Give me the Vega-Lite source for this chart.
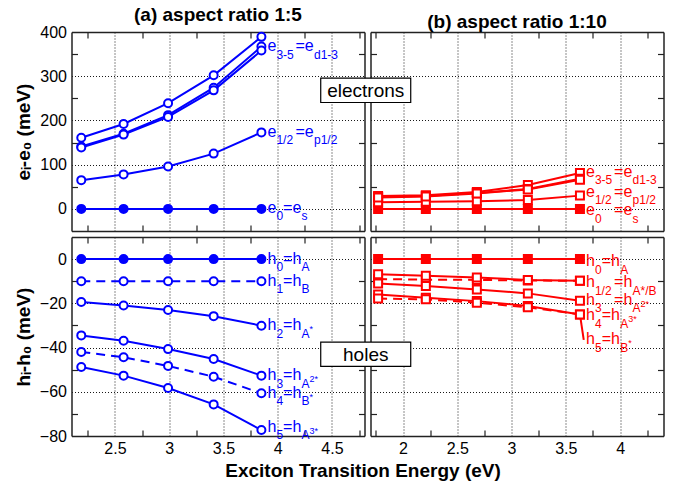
{
  "$schema": "https://vega.github.io/schema/vega-lite/v6.json",
  "padding": {"left": 13.5, "top": 6, "right": 5, "bottom": 5},
  "background": "white",
  "config": {
    "view": {"stroke": null},
    "font": "Liberation Sans",
    "axis": {"labelFont": "Liberation Sans", "labelFontSize": 16, "labelColor": "black", "titleFont": "Liberation Sans", "titleFontSize": 19, "titleFontWeight": "bold", "titleColor": "black", "gridColor": "black", "gridDash": [1, 2], "gridOpacity": 0.9, "gridWidth": 1, "domainColor": "#222", "domainWidth": 1.5, "tickColor": "#222", "tickWidth": 1.2, "labelFlush": false, "labelOverlap": false},
    "title": {"font": "Liberation Sans", "fontSize": 19, "fontWeight": "bold", "color": "black", "offset": -1, "anchor": "middle"}
  },
  "datasets": {
    "ae": [
      {"s": "e0", "x": 2.19, "y": 0}, {"s": "e0", "x": 2.58, "y": 0}, {"s": "e0", "x": 2.99, "y": 0}, {"s": "e0", "x": 3.41, "y": 0}, {"s": "e0", "x": 3.85, "y": 0},
      {"s": "e12", "x": 2.19, "y": 65}, {"s": "e12", "x": 2.58, "y": 78}, {"s": "e12", "x": 2.99, "y": 96}, {"s": "e12", "x": 3.41, "y": 125}, {"s": "e12", "x": 3.85, "y": 173},
      {"s": "e3", "x": 2.19, "y": 161}, {"s": "e3", "x": 2.58, "y": 192}, {"s": "e3", "x": 2.99, "y": 239}, {"s": "e3", "x": 3.41, "y": 302}, {"s": "e3", "x": 3.85, "y": 389},
      {"s": "e4", "x": 2.19, "y": 141}, {"s": "e4", "x": 2.58, "y": 170}, {"s": "e4", "x": 2.99, "y": 212}, {"s": "e4", "x": 3.41, "y": 274}, {"s": "e4", "x": 3.85, "y": 367},
      {"s": "e5", "x": 2.19, "y": 139}, {"s": "e5", "x": 2.58, "y": 168}, {"s": "e5", "x": 2.99, "y": 208}, {"s": "e5", "x": 3.41, "y": 268}, {"s": "e5", "x": 3.85, "y": 358}
    ],
    "be": [
      {"s": "e0", "x": 1.77, "y": 0}, {"s": "e0", "x": 2.21, "y": 0}, {"s": "e0", "x": 2.68, "y": 0}, {"s": "e0", "x": 3.15, "y": 0}, {"s": "e0", "x": 3.63, "y": 0},
      {"s": "e12", "x": 1.77, "y": 15}, {"s": "e12", "x": 2.21, "y": 16}, {"s": "e12", "x": 2.68, "y": 17}, {"s": "e12", "x": 3.15, "y": 20}, {"s": "e12", "x": 3.63, "y": 30},
      {"s": "e3", "x": 1.77, "y": 29}, {"s": "e3", "x": 2.21, "y": 31}, {"s": "e3", "x": 2.68, "y": 38}, {"s": "e3", "x": 3.15, "y": 54}, {"s": "e3", "x": 3.63, "y": 81},
      {"s": "e4", "x": 1.77, "y": 27}, {"s": "e4", "x": 2.21, "y": 29}, {"s": "e4", "x": 2.68, "y": 36}, {"s": "e4", "x": 3.15, "y": 45}, {"s": "e4", "x": 3.63, "y": 68},
      {"s": "e5", "x": 1.77, "y": 26}, {"s": "e5", "x": 2.21, "y": 28}, {"s": "e5", "x": 2.68, "y": 35}, {"s": "e5", "x": 3.15, "y": 44}, {"s": "e5", "x": 3.63, "y": 66}
    ],
    "ah": [
      {"s": "h0", "x": 2.19, "y": 0}, {"s": "h0", "x": 2.58, "y": 0}, {"s": "h0", "x": 2.99, "y": 0}, {"s": "h0", "x": 3.41, "y": 0}, {"s": "h0", "x": 3.85, "y": 0},
      {"s": "h1", "x": 2.19, "y": -10}, {"s": "h1", "x": 2.58, "y": -10}, {"s": "h1", "x": 2.99, "y": -10}, {"s": "h1", "x": 3.41, "y": -10}, {"s": "h1", "x": 3.85, "y": -10},
      {"s": "h2", "x": 2.19, "y": -19.4}, {"s": "h2", "x": 2.58, "y": -21}, {"s": "h2", "x": 2.99, "y": -23}, {"s": "h2", "x": 3.41, "y": -25.8}, {"s": "h2", "x": 3.85, "y": -30.1},
      {"s": "h3", "x": 2.19, "y": -34.5}, {"s": "h3", "x": 2.58, "y": -36.9}, {"s": "h3", "x": 2.99, "y": -40.7}, {"s": "h3", "x": 3.41, "y": -45.2}, {"s": "h3", "x": 3.85, "y": -52.7},
      {"s": "h4", "x": 2.19, "y": -42}, {"s": "h4", "x": 2.58, "y": -44.4}, {"s": "h4", "x": 2.99, "y": -48.3}, {"s": "h4", "x": 3.41, "y": -53.2}, {"s": "h4", "x": 3.85, "y": -60.7},
      {"s": "h5", "x": 2.19, "y": -48.8}, {"s": "h5", "x": 2.58, "y": -52.7}, {"s": "h5", "x": 2.99, "y": -58.3}, {"s": "h5", "x": 3.41, "y": -65.7}, {"s": "h5", "x": 3.85, "y": -77.3}
    ],
    "bh": [
      {"s": "h0", "x": 1.77, "y": 0}, {"s": "h0", "x": 2.21, "y": 0}, {"s": "h0", "x": 2.68, "y": 0}, {"s": "h0", "x": 3.15, "y": 0}, {"s": "h0", "x": 3.63, "y": 0},
      {"s": "h1", "x": 1.77, "y": -9.0}, {"s": "h1", "x": 2.21, "y": -9.3}, {"s": "h1", "x": 2.68, "y": -9.4}, {"s": "h1", "x": 3.15, "y": -9.7}, {"s": "h1", "x": 3.63, "y": -9.8},
      {"s": "h2", "x": 1.77, "y": -6.9}, {"s": "h2", "x": 2.21, "y": -7.5}, {"s": "h2", "x": 2.68, "y": -8.3}, {"s": "h2", "x": 3.15, "y": -9.4}, {"s": "h2", "x": 3.63, "y": -9.8},
      {"s": "h3", "x": 1.77, "y": -11}, {"s": "h3", "x": 2.21, "y": -12.2}, {"s": "h3", "x": 2.68, "y": -13.7}, {"s": "h3", "x": 3.15, "y": -15.5}, {"s": "h3", "x": 3.63, "y": -18.8},
      {"s": "h4", "x": 1.77, "y": -16}, {"s": "h4", "x": 2.21, "y": -17.5}, {"s": "h4", "x": 2.68, "y": -19}, {"s": "h4", "x": 3.15, "y": -21.2}, {"s": "h4", "x": 3.63, "y": -25},
      {"s": "h5", "x": 1.77, "y": -17.8}, {"s": "h5", "x": 2.21, "y": -18.2}, {"s": "h5", "x": 2.68, "y": -19.7}, {"s": "h5", "x": 3.15, "y": -21.8}, {"s": "h5", "x": 3.63, "y": -25}
    ],
    "ael": [
      {"x": 3.85, "y": 367, "b1": "e", "s1": "3-5", "b2": "=e", "s2": "d1-3", "sp": ""},
      {"x": 3.85, "y": 173, "b1": "e", "s1": "1/2", "b2": "=e", "s2": "p1/2", "sp": ""},
      {"x": 3.85, "y": 2, "b1": "e", "s1": "0", "b2": "=e", "s2": "s", "sp": ""}
    ],
    "bel": [
      {"x": 3.63, "y": 83, "b1": "e", "s1": "3-5", "b2": "=e", "s2": "d1-3", "sp": ""},
      {"x": 3.63, "y": 38, "b1": "e", "s1": "1/2", "b2": "=e", "s2": "p1/2", "sp": ""},
      {"x": 3.63, "y": -4, "b1": "e", "s1": "0  ", "b2": "=e", "s2": "s", "sp": ""}
    ],
    "ahl": [
      {"x": 3.85, "y": 0, "b1": "h", "s1": "0", "b2": "=h", "s2": "A", "sp": ""},
      {"x": 3.85, "y": -10, "b1": "h", "s1": "1", "b2": "=h", "s2": "B", "sp": ""},
      {"x": 3.85, "y": -30.2, "b1": "h", "s1": "2", "b2": "=h", "s2": "A", "sp": "*"},
      {"x": 3.85, "y": -52.8, "b1": "h", "s1": "3", "b2": "=h", "s2": "A", "sp": "2*"},
      {"x": 3.85, "y": -60.6, "b1": "h", "s1": "4", "b2": "=h", "s2": "B", "sp": "*"},
      {"x": 3.85, "y": -76, "b1": "h", "s1": "5", "b2": "=h", "s2": "A", "sp": "3*"}
    ],
    "bhl": [
      {"x": 3.63, "y": -1.2, "b1": "h", "s1": "0", "b2": "=h", "s2": "A", "sp": ""},
      {"x": 3.63, "y": -10.6, "b1": "h", "s1": "1/2", "b2": "=h", "s2": "A*/B", "sp": ""},
      {"x": 3.63, "y": -18.5, "b1": "h", "s1": "3  ", "b2": "=h", "s2": "A", "sp": "2*"},
      {"x": 3.63, "y": -25.6, "b1": "h", "s1": "4", "b2": "=h", "s2": "A", "sp": "3*"},
      {"x": 3.63, "y": -36.5, "b1": "h", "s1": "5", "b2": "=h", "s2": "B", "sp": "*"}
    ]
  },
  "columns": 2,
  "spacing": {"row": 6, "column": 6},
  "bounds": "flush",
  "concat": [
        {
          "width": 293, "height": 199,
          "title": {"text": "(a) aspect ratio 1:5"},
          "resolve": {"axis": {"x": "independent", "y": "independent"}},
          "layer": [
            {"data": {"name": "ae"}, "mark": {"type": "line", "color": "#0000ff", "strokeWidth": 2},
             "encoding": {
               "x": {"field": "x", "type": "quantitative", "scale": {"domain": [2.1, 4.8], "nice": false, "zero": false}, "axis": {"orient": "bottom", "values": [2.5, 3, 3.5, 4, 4.5], "grid": true, "ticks": false, "labels": false, "domain": true, "title": null}},
               "y": {"field": "y", "type": "quantitative", "scale": {"domain": [-50, 400], "nice": false, "zero": false}, "axis": {"orient": "left", "values": [0, 100, 200, 300, 400], "grid": true, "ticks": false, "labels": true, "format": ".1~f", "labelPadding": 5, "domain": true, "title": "eᵢ-e₀ (meV)", "titlePadding": 6}},
               "detail": {"field": "s"}}},
            {"data": {"name": "ae"}, "mark": {"type": "point", "shape": "circle", "size": 64, "strokeWidth": 2, "filled": true, "opacity": 1, "stroke": "#0000ff"},
             "encoding": {
               "x": {"field": "x", "type": "quantitative", "scale": {"domain": [2.1, 4.8], "nice": false, "zero": false}, "axis": {"orient": "bottom", "values": [2.25, 2.75, 3.25, 3.75, 4.25, 4.75], "grid": false, "ticks": true, "tickSize": -6, "labels": false, "domain": false, "title": null}},
               "y": {"field": "y", "type": "quantitative", "scale": {"domain": [-50, 400], "nice": false, "zero": false}, "axis": {"orient": "left", "values": [50, 150, 250, 350], "grid": false, "ticks": true, "tickSize": -6, "labels": false, "domain": false, "title": null}},
               "fill": {"condition": {"test": "datum.s==='e0'", "value": "#0000ff"}, "value": "white"}}},
            {"data": {"name": "ael"}, "mark": {"type": "text", "align": "left", "baseline": "alphabetic", "dx": 6, "dy": 4.5, "fontSize": 16, "color": "#0000ff"},
             "encoding": {
               "x": {"field": "x", "type": "quantitative", "scale": {"domain": [2.1, 4.8], "nice": false, "zero": false}, "axis": {"orient": "top", "values": [2.25, 2.75, 3.25, 3.75, 4.25, 4.75], "grid": false, "ticks": true, "tickSize": -6, "labels": false, "domain": true, "title": null}},
               "y": {"field": "y", "type": "quantitative", "scale": {"domain": [-50, 400], "nice": false, "zero": false}, "axis": {"orient": "right", "values": [50, 150, 250, 350], "grid": false, "ticks": true, "tickSize": -6, "labels": false, "domain": true, "title": null}},
               "text": {"field": "b1"}}},
            {"data": {"name": "ael"}, "mark": {"type": "text", "align": "left", "baseline": "alphabetic", "dx": 15, "dy": 12, "fontSize": 12, "color": "#0000ff"},
             "encoding": {"x": {"field": "x", "type": "quantitative", "axis": null}, "y": {"field": "y", "type": "quantitative", "axis": null}, "text": {"field": "s1"}}},
            {"data": {"name": "ael"}, "mark": {"type": "text", "align": "left", "baseline": "alphabetic", "dx": {"expr": "15.5 + 6.2*length(datum.s1)"}, "dy": 4.5, "fontSize": 16, "color": "#0000ff"},
             "encoding": {"x": {"field": "x", "type": "quantitative", "axis": null}, "y": {"field": "y", "type": "quantitative", "axis": null}, "text": {"field": "b2"}}},
            {"data": {"name": "ael"}, "mark": {"type": "text", "align": "left", "baseline": "alphabetic", "dx": {"expr": "34 + 6.2*length(datum.s1)"}, "dy": 12, "fontSize": 12, "color": "#0000ff"},
             "encoding": {"x": {"field": "x", "type": "quantitative", "axis": null}, "y": {"field": "y", "type": "quantitative", "axis": null}, "text": {"field": "s2"}}}
          ]
        },
        {
          "width": 293, "height": 199,
          "title": {"text": "(b) aspect ratio 1:10"},
          "resolve": {"axis": {"x": "independent", "y": "independent"}},
          "layer": [
            {"data": {"name": "be"}, "mark": {"type": "line", "color": "#ff0000", "strokeWidth": 2},
             "encoding": {
               "x": {"field": "x", "type": "quantitative", "scale": {"domain": [1.7, 4.4], "nice": false, "zero": false}, "axis": {"orient": "bottom", "values": [2, 2.5, 3, 3.5, 4], "grid": true, "ticks": false, "labels": false, "domain": true, "title": null}},
               "y": {"field": "y", "type": "quantitative", "scale": {"domain": [-50, 400], "nice": false, "zero": false}, "axis": {"orient": "left", "values": [0, 100, 200, 300, 400], "grid": true, "ticks": false, "labels": false, "domain": true, "title": null}},
               "detail": {"field": "s"}}},
            {"data": {"name": "be"}, "mark": {"type": "point", "shape": "square", "size": 64, "strokeWidth": 2, "filled": true, "opacity": 1, "stroke": "#ff0000"},
             "encoding": {
               "x": {"field": "x", "type": "quantitative", "scale": {"domain": [1.7, 4.4], "nice": false, "zero": false}, "axis": {"orient": "bottom", "values": [1.75, 2.25, 2.75, 3.25, 3.75, 4.25], "grid": false, "ticks": true, "tickSize": -6, "labels": false, "domain": false, "title": null}},
               "y": {"field": "y", "type": "quantitative", "scale": {"domain": [-50, 400], "nice": false, "zero": false}, "axis": {"orient": "left", "values": [50, 150, 250, 350], "grid": false, "ticks": true, "tickSize": -6, "labels": false, "domain": false, "title": null}},
               "fill": {"condition": {"test": "datum.s==='e0'", "value": "#ff0000"}, "value": "white"}}},
            {"data": {"name": "bel"}, "mark": {"type": "text", "align": "left", "baseline": "alphabetic", "dx": 6, "dy": 4.5, "fontSize": 16, "color": "#ff0000"},
             "encoding": {
               "x": {"field": "x", "type": "quantitative", "scale": {"domain": [1.7, 4.4], "nice": false, "zero": false}, "axis": {"orient": "top", "values": [1.75, 2.25, 2.75, 3.25, 3.75, 4.25], "grid": false, "ticks": true, "tickSize": -6, "labels": false, "domain": true, "title": null}},
               "y": {"field": "y", "type": "quantitative", "scale": {"domain": [-50, 400], "nice": false, "zero": false}, "axis": {"orient": "right", "values": [50, 150, 250, 350], "grid": false, "ticks": true, "tickSize": -6, "labels": false, "domain": true, "title": null}},
               "text": {"field": "b1"}}},
            {"data": {"name": "bel"}, "mark": {"type": "text", "align": "left", "baseline": "alphabetic", "dx": 15, "dy": 12, "fontSize": 12, "color": "#ff0000"},
             "encoding": {"x": {"field": "x", "type": "quantitative", "axis": null}, "y": {"field": "y", "type": "quantitative", "axis": null}, "text": {"field": "s1"}}},
            {"data": {"name": "bel"}, "mark": {"type": "text", "align": "left", "baseline": "alphabetic", "dx": {"expr": "15.5 + 6.2*length(datum.s1)"}, "dy": 4.5, "fontSize": 16, "color": "#ff0000"},
             "encoding": {"x": {"field": "x", "type": "quantitative", "axis": null}, "y": {"field": "y", "type": "quantitative", "axis": null}, "text": {"field": "b2"}}},
            {"data": {"name": "bel"}, "mark": {"type": "text", "align": "left", "baseline": "alphabetic", "dx": {"expr": "34 + 6.2*length(datum.s1)"}, "dy": 12, "fontSize": 12, "color": "#ff0000"},
             "encoding": {"x": {"field": "x", "type": "quantitative", "axis": null}, "y": {"field": "y", "type": "quantitative", "axis": null}, "text": {"field": "s2"}}},
            {"data": {"values": [{"x": 1.656, "y": 268, "t": "electrons"}]}, "mark": {"type": "point", "shape": "M-1,-0.27H1V0.27H-1Z", "size": 8100, "filled": true, "fill": "white", "stroke": "black", "strokeWidth": 1.2, "opacity": 1},
             "encoding": {"x": {"field": "x", "type": "quantitative", "scale": {"domain": [1.7, 4.4], "nice": false, "zero": false}, "axis": null}, "y": {"field": "y", "type": "quantitative", "scale": {"domain": [-50, 400], "nice": false, "zero": false}, "axis": null}}},
            {"data": {"values": [{"x": 1.656, "y": 268, "t": "electrons"}]}, "mark": {"type": "text", "align": "center", "baseline": "middle", "fontSize": 19, "color": "black", "dy": 1},
             "encoding": {"x": {"field": "x", "type": "quantitative", "axis": null}, "y": {"field": "y", "type": "quantitative", "axis": null}, "text": {"field": "t"}}}
          ]
        },
        {
          "width": 293, "height": 199,
          "resolve": {"axis": {"x": "independent", "y": "independent"}},
          "layer": [
            {"data": {"name": "ah"}, "transform": [{"filter": "datum.s !== 'h1' && datum.s !== 'h4'"}], "mark": {"type": "line", "color": "#0000ff", "strokeWidth": 2},
             "encoding": {
               "x": {"field": "x", "type": "quantitative", "scale": {"domain": [2.1, 4.8], "nice": false, "zero": false}, "axis": {"orient": "bottom", "values": [2.5, 3, 3.5, 4, 4.5], "grid": true, "ticks": false, "labels": true, "format": ".1~f", "labelPadding": 4.5, "domain": true, "title": "Exciton Transition Energy (eV)", "titleX": 291, "titlePadding": 5}},
               "y": {"field": "y", "type": "quantitative", "scale": {"domain": [-80, 10], "nice": false, "zero": false}, "axis": {"orient": "left", "values": [-80, -60, -40, -20, 0], "grid": true, "ticks": false, "labels": true, "format": ".1~f", "labelPadding": 5, "domain": true, "title": "hᵢ-h₀ (meV)", "titlePadding": 6}},
               "detail": {"field": "s"}}},
            {"data": {"name": "ah"}, "transform": [{"filter": "datum.s === 'h1' || datum.s === 'h4'"}], "mark": {"type": "line", "color": "#0000ff", "strokeWidth": 2, "strokeDash": [9, 6]},
             "encoding": {
               "x": {"field": "x", "type": "quantitative", "scale": {"domain": [2.1, 4.8], "nice": false, "zero": false}, "axis": null},
               "y": {"field": "y", "type": "quantitative", "scale": {"domain": [-80, 10], "nice": false, "zero": false}, "axis": null},
               "detail": {"field": "s"}}},
            {"data": {"name": "ah"}, "mark": {"type": "point", "shape": "circle", "size": 64, "strokeWidth": 2, "filled": true, "opacity": 1, "stroke": "#0000ff"},
             "encoding": {
               "x": {"field": "x", "type": "quantitative", "scale": {"domain": [2.1, 4.8], "nice": false, "zero": false}, "axis": {"orient": "bottom", "values": [2.25, 2.75, 3.25, 3.75, 4.25, 4.75], "grid": false, "ticks": true, "tickSize": -6, "labels": false, "domain": false, "title": null}},
               "y": {"field": "y", "type": "quantitative", "scale": {"domain": [-80, 10], "nice": false, "zero": false}, "axis": {"orient": "left", "values": [-70, -50, -30, -10], "grid": false, "ticks": true, "tickSize": -6, "labels": false, "domain": false, "title": null}},
               "fill": {"condition": {"test": "datum.s==='h0'", "value": "#0000ff"}, "value": "white"}}},
            {"data": {"name": "ahl"}, "mark": {"type": "text", "align": "left", "baseline": "alphabetic", "dx": 6, "dy": 4.5, "fontSize": 16, "color": "#0000ff"},
             "encoding": {
               "x": {"field": "x", "type": "quantitative", "scale": {"domain": [2.1, 4.8], "nice": false, "zero": false}, "axis": {"orient": "top", "values": [2.25, 2.75, 3.25, 3.75, 4.25, 4.75], "grid": false, "ticks": true, "tickSize": -6, "labels": false, "domain": true, "title": null}},
               "y": {"field": "y", "type": "quantitative", "scale": {"domain": [-80, 10], "nice": false, "zero": false}, "axis": {"orient": "right", "values": [-70, -50, -30, -10], "grid": false, "ticks": true, "tickSize": -6, "labels": false, "domain": true, "title": null}},
               "text": {"field": "b1"}}},
            {"data": {"name": "ahl"}, "mark": {"type": "text", "align": "left", "baseline": "alphabetic", "dx": 15, "dy": 12, "fontSize": 12, "color": "#0000ff"},
             "encoding": {"x": {"field": "x", "type": "quantitative", "axis": null}, "y": {"field": "y", "type": "quantitative", "axis": null}, "text": {"field": "s1"}}},
            {"data": {"name": "ahl"}, "mark": {"type": "text", "align": "left", "baseline": "alphabetic", "dx": {"expr": "15.5 + 6.2*length(datum.s1)"}, "dy": 4.5, "fontSize": 16, "color": "#0000ff"},
             "encoding": {"x": {"field": "x", "type": "quantitative", "axis": null}, "y": {"field": "y", "type": "quantitative", "axis": null}, "text": {"field": "b2"}}},
            {"data": {"name": "ahl"}, "mark": {"type": "text", "align": "left", "baseline": "alphabetic", "dx": {"expr": "34 + 6.2*length(datum.s1)"}, "dy": 12, "fontSize": 12, "color": "#0000ff"},
             "encoding": {"x": {"field": "x", "type": "quantitative", "axis": null}, "y": {"field": "y", "type": "quantitative", "axis": null}, "text": {"field": "s2"}}},
            {"data": {"name": "ahl"}, "mark": {"type": "text", "align": "left", "baseline": "alphabetic", "dx": {"expr": "34 + 6.2*length(datum.s1) + 8*length(datum.s2)"}, "dy": 6.5, "fontSize": 9, "color": "#0000ff"},
             "encoding": {"x": {"field": "x", "type": "quantitative", "axis": null}, "y": {"field": "y", "type": "quantitative", "axis": null}, "text": {"field": "sp"}}}
          ]
        },
        {
          "width": 293, "height": 199,
          "resolve": {"axis": {"x": "independent", "y": "independent"}},
          "layer": [
            {"data": {"name": "bh"}, "transform": [{"filter": "datum.s !== 'h1' && datum.s !== 'h5'"}], "mark": {"type": "line", "color": "#ff0000", "strokeWidth": 2},
             "encoding": {
               "x": {"field": "x", "type": "quantitative", "scale": {"domain": [1.7, 4.4], "nice": false, "zero": false}, "axis": {"orient": "bottom", "values": [2, 2.5, 3, 3.5, 4], "grid": true, "ticks": false, "labels": true, "format": ".1~f", "labelPadding": 4.5, "domain": true, "title": null}},
               "y": {"field": "y", "type": "quantitative", "scale": {"domain": [-80, 10], "nice": false, "zero": false}, "axis": {"orient": "left", "values": [-80, -60, -40, -20, 0], "grid": true, "ticks": false, "labels": false, "domain": true, "title": null}},
               "detail": {"field": "s"}}},
            {"data": {"name": "bh"}, "transform": [{"filter": "datum.s === 'h1' || datum.s === 'h5'"}], "mark": {"type": "line", "color": "#ff0000", "strokeWidth": 2, "strokeDash": [9, 6]},
             "encoding": {
               "x": {"field": "x", "type": "quantitative", "scale": {"domain": [1.7, 4.4], "nice": false, "zero": false}, "axis": null},
               "y": {"field": "y", "type": "quantitative", "scale": {"domain": [-80, 10], "nice": false, "zero": false}, "axis": null},
               "detail": {"field": "s"}}},
            {"data": {"values": [{"x": 3.63, "y": -25, "x2": 3.665, "y2": -36.5}]}, "mark": {"type": "rule", "color": "#ff0000", "strokeWidth": 2},
             "encoding": {
               "x": {"field": "x", "type": "quantitative", "scale": {"domain": [1.7, 4.4], "nice": false, "zero": false}, "axis": null},
               "x2": {"field": "x2"},
               "y": {"field": "y", "type": "quantitative", "scale": {"domain": [-80, 10], "nice": false, "zero": false}, "axis": null},
               "y2": {"field": "y2"}}},
            {"data": {"name": "bh"}, "mark": {"type": "point", "shape": "square", "size": 64, "strokeWidth": 2, "filled": true, "opacity": 1, "stroke": "#ff0000"},
             "encoding": {
               "x": {"field": "x", "type": "quantitative", "scale": {"domain": [1.7, 4.4], "nice": false, "zero": false}, "axis": {"orient": "bottom", "values": [1.75, 2.25, 2.75, 3.25, 3.75, 4.25], "grid": false, "ticks": true, "tickSize": -6, "labels": false, "domain": false, "title": null}},
               "y": {"field": "y", "type": "quantitative", "scale": {"domain": [-80, 10], "nice": false, "zero": false}, "axis": {"orient": "left", "values": [-70, -50, -30, -10], "grid": false, "ticks": true, "tickSize": -6, "labels": false, "domain": false, "title": null}},
               "fill": {"condition": {"test": "datum.s==='h0'", "value": "#ff0000"}, "value": "white"}}},
            {"data": {"name": "bhl"}, "mark": {"type": "text", "align": "left", "baseline": "alphabetic", "dx": 6, "dy": 4.5, "fontSize": 16, "color": "#ff0000"},
             "encoding": {
               "x": {"field": "x", "type": "quantitative", "scale": {"domain": [1.7, 4.4], "nice": false, "zero": false}, "axis": {"orient": "top", "values": [1.75, 2.25, 2.75, 3.25, 3.75, 4.25], "grid": false, "ticks": true, "tickSize": -6, "labels": false, "domain": true, "title": null}},
               "y": {"field": "y", "type": "quantitative", "scale": {"domain": [-80, 10], "nice": false, "zero": false}, "axis": {"orient": "right", "values": [-70, -50, -30, -10], "grid": false, "ticks": true, "tickSize": -6, "labels": false, "domain": true, "title": null}},
               "text": {"field": "b1"}}},
            {"data": {"name": "bhl"}, "mark": {"type": "text", "align": "left", "baseline": "alphabetic", "dx": 15, "dy": 12, "fontSize": 12, "color": "#ff0000"},
             "encoding": {"x": {"field": "x", "type": "quantitative", "axis": null}, "y": {"field": "y", "type": "quantitative", "axis": null}, "text": {"field": "s1"}}},
            {"data": {"name": "bhl"}, "mark": {"type": "text", "align": "left", "baseline": "alphabetic", "dx": {"expr": "15.5 + 6.2*length(datum.s1)"}, "dy": 4.5, "fontSize": 16, "color": "#ff0000"},
             "encoding": {"x": {"field": "x", "type": "quantitative", "axis": null}, "y": {"field": "y", "type": "quantitative", "axis": null}, "text": {"field": "b2"}}},
            {"data": {"name": "bhl"}, "mark": {"type": "text", "align": "left", "baseline": "alphabetic", "dx": {"expr": "34 + 6.2*length(datum.s1)"}, "dy": 12, "fontSize": 12, "color": "#ff0000"},
             "encoding": {"x": {"field": "x", "type": "quantitative", "axis": null}, "y": {"field": "y", "type": "quantitative", "axis": null}, "text": {"field": "s2"}}},
            {"data": {"name": "bhl"}, "mark": {"type": "text", "align": "left", "baseline": "alphabetic", "dx": {"expr": "34 + 6.2*length(datum.s1) + 8*length(datum.s2)"}, "dy": 6.5, "fontSize": 9, "color": "#ff0000"},
             "encoding": {"x": {"field": "x", "type": "quantitative", "axis": null}, "y": {"field": "y", "type": "quantitative", "axis": null}, "text": {"field": "sp"}}},
            {"data": {"values": [{"x": 1.656, "y": -43, "t": "holes"}]}, "mark": {"type": "point", "shape": "M-1,-0.27H1V0.27H-1Z", "size": 8100, "filled": true, "fill": "white", "stroke": "black", "strokeWidth": 1.2, "opacity": 1},
             "encoding": {"x": {"field": "x", "type": "quantitative", "scale": {"domain": [1.7, 4.4], "nice": false, "zero": false}, "axis": null}, "y": {"field": "y", "type": "quantitative", "scale": {"domain": [-80, 10], "nice": false, "zero": false}, "axis": null}}},
            {"data": {"values": [{"x": 1.656, "y": -43, "t": "holes"}]}, "mark": {"type": "text", "align": "center", "baseline": "middle", "fontSize": 19, "color": "black", "dy": 1},
             "encoding": {"x": {"field": "x", "type": "quantitative", "axis": null}, "y": {"field": "y", "type": "quantitative", "axis": null}, "text": {"field": "t"}}}
          ]
        }
  ]
}
